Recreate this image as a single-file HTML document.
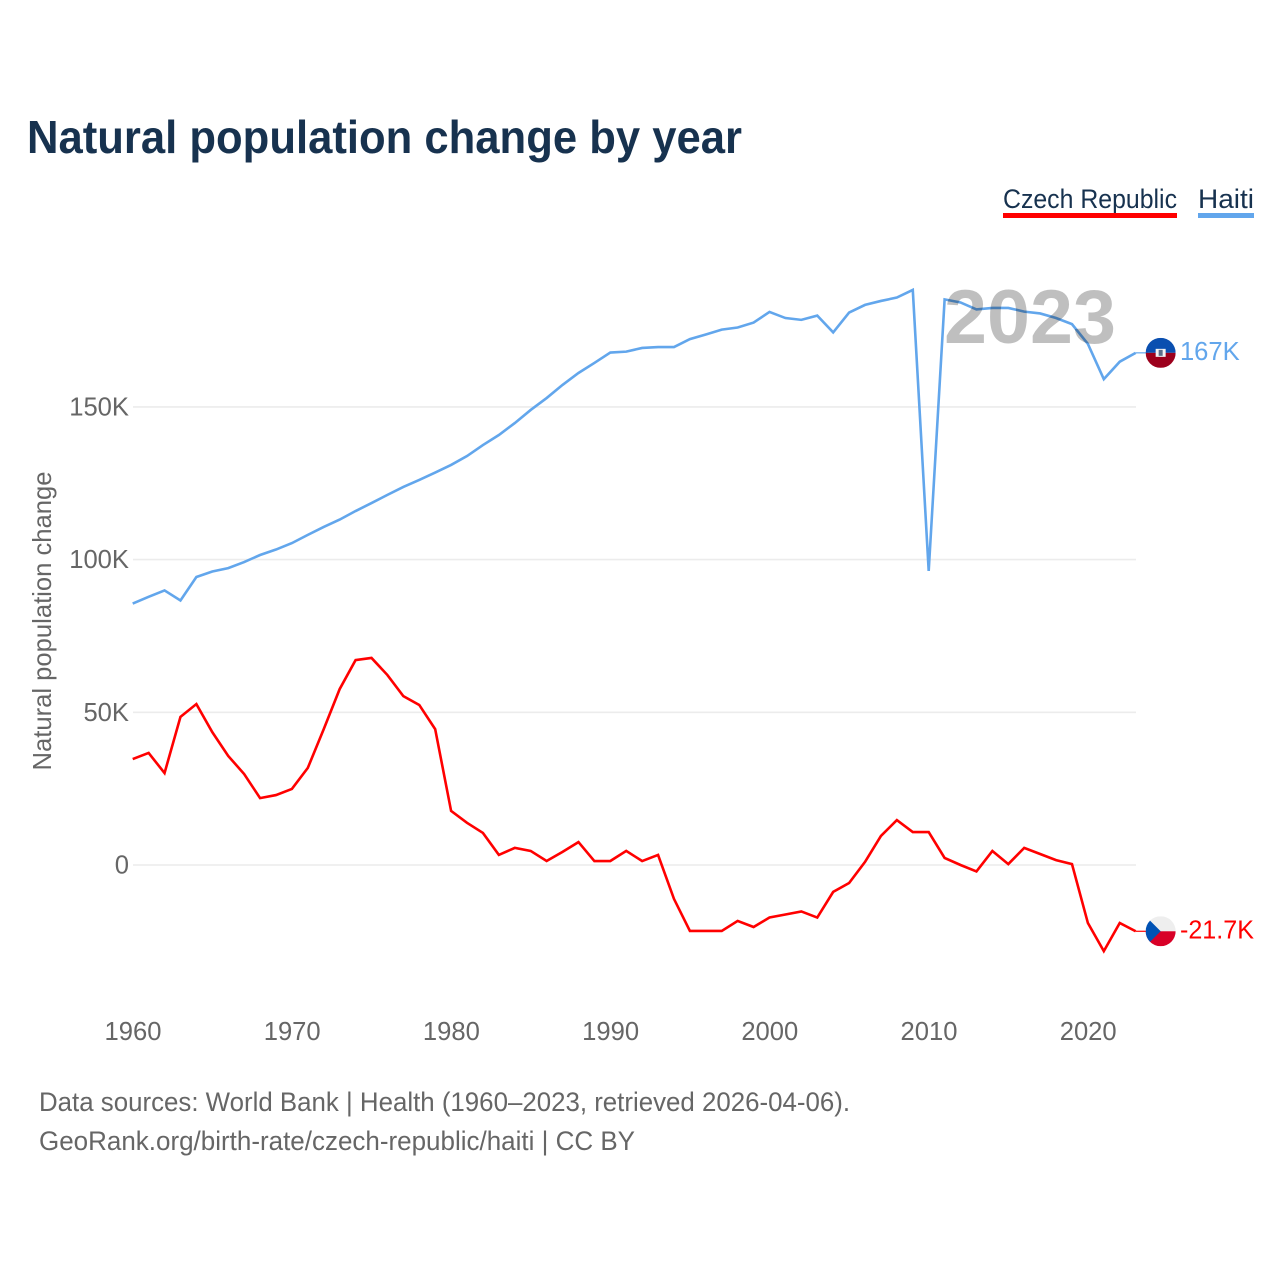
<!DOCTYPE html>
<html lang="en">
<head>
<meta charset="utf-8">
<title>Natural population change by year</title>
<style>
html,body{margin:0;padding:0;background:#fff;width:1280px;height:1280px;overflow:hidden}
svg{display:block;font-family:"Liberation Sans",sans-serif}
</style>
</head>
<body>
<svg id="chart" width="1280" height="1280" viewBox="0 0 1280 1280" xmlns="http://www.w3.org/2000/svg">
  <rect width="1280" height="1280" fill="#fff"/>
  <text x="27" y="153" font-size="46" font-weight="700" fill="#17324f" textLength="715" lengthAdjust="spacingAndGlyphs">Natural population change by year</text>

  <g>
    <text x="1003" y="208" font-size="27" fill="#17324f" textLength="174" lengthAdjust="spacingAndGlyphs">Czech Republic</text>
    <rect x="1003" y="213" width="174" height="5" fill="#ff0000"/>
  </g>
  <g>
    <text x="1198" y="208" font-size="27" fill="#17324f" textLength="56" lengthAdjust="spacingAndGlyphs">Haiti</text>
    <rect x="1198" y="213" width="56" height="5" fill="#62a6ec"/>
  </g>

  <text transform="translate(51 621) rotate(-90)" text-anchor="middle" font-size="25.6" fill="#666" textLength="299" lengthAdjust="spacingAndGlyphs">Natural population change</text>

  <g id="grid"></g>
  <g id="y-ticks"></g>
  <g id="x-ticks"></g>
  <g id="series"></g>

  <text x="944" y="343" font-size="76" font-weight="700" fill="#000" fill-opacity="0.25" textLength="172" lengthAdjust="spacingAndGlyphs">2023</text>

  <defs>
    <clipPath id="haiti-clip"><circle cx="0" cy="0" r="15"/></clipPath>
    <clipPath id="czech-clip"><circle cx="0" cy="0" r="15"/></clipPath>
  </defs>

  <g id="flag-haiti" clip-path="url(#haiti-clip)">
    <rect x="-15" y="-15" width="30" height="15" fill="#0a4fb0"/>
    <rect x="-15" y="0" width="30" height="15" fill="#9c001c"/>
    <rect x="-5" y="-4" width="10" height="8" fill="#f4f4f4"/>
    <rect x="-2" y="-3" width="4" height="6" fill="#5a6f8a"/>
  </g>
  <g id="flag-czech" clip-path="url(#czech-clip)">
    <rect x="-15" y="-15" width="30" height="15" fill="#eeeeee"/>
    <rect x="-15" y="0" width="30" height="15" fill="#d80027"/>
    <path d="M-15 -15 L0 0 L-15 15 Z" fill="#0052b4"/>
  </g>

  <g id="end-labels"></g>

  <text x="39" y="1111" font-size="26.5" fill="#666" textLength="811" lengthAdjust="spacingAndGlyphs">Data sources: World Bank | Health (1960–2023, retrieved 2026-04-06).</text>
  <text x="39" y="1150" font-size="26.5" fill="#666" textLength="596" lengthAdjust="spacingAndGlyphs">GeoRank.org/birth-rate/czech-republic/haiti | CC BY</text>
</svg>

<script>
const firstYear = 1960;
const czechValues = [34.7,36.7,30.1,48.5,52.7,43.5,35.7,29.8,21.9,22.9,24.9,31.8,44.5,57.6,67.1,67.8,62.2,55.3,52.4,44.5,17.7,13.8,10.5,3.3,5.6,4.6,1.3,4.3,7.5,1.3,1.3,4.6,1.3,3.3,-11.1,-21.6,-21.6,-21.6,-18.3,-20.3,-17.2,-16.2,-15.2,-17.2,-8.8,-5.9,1.0,9.5,14.7,10.8,10.8,2.3,0.0,-2.1,4.6,0.3,5.6,3.6,1.6,0.3,-19.0,-28.2,-19.0,-21.7];
const haitiValues = [85.6,87.8,89.9,86.6,94.3,96.1,97.2,99.2,101.5,103.3,105.4,108.1,110.7,113.1,115.9,118.5,121.2,123.8,126.1,128.5,131.0,133.9,137.5,140.8,144.7,149.0,152.9,157.2,161.1,164.4,167.8,168.1,169.3,169.6,169.6,172.2,173.7,175.3,176.0,177.6,181.1,179.1,178.5,179.9,174.4,180.9,183.4,184.7,185.8,188.3,96.3,185.2,184.2,181.9,182.4,182.4,181.2,180.6,179.1,177.1,170.6,159.1,164.8,167.7];
const yTickValues = [0,50,100,150];
const yTickLabels = ["0","50K","100K","150K"];
const xTickYears = [1960,1970,1980,1990,2000,2010,2020];
const endLabels = ["-21.7K","167K"];

const NS = "http://www.w3.org/2000/svg";
function xScale(year){ return 132.7 + (year - 1960) * 15.92; }
function yScale(v){ return 865 - v * 3.054; }
function make(tag, parent, attrs){
  const el = document.createElementNS(NS, tag);
  for (const k in attrs) el.setAttribute(k, attrs[k]);
  parent.appendChild(el);
  return el;
}

const grid = document.getElementById("grid");
const yTicks = document.getElementById("y-ticks");
yTickValues.forEach(function(v, i){
  const line = make("line", grid, {x1:133, x2:1136, y1:yScale(v), y2:yScale(v), stroke:"#ececec", "stroke-width":1.6});
  
  
  const t = make("text", yTicks, {x:129, y:yScale(v)+8.5, "text-anchor":"end", "font-size":25.6, fill:"#666"});
  t.textContent = yTickLabels[i];
  
  
});

const xTicks = document.getElementById("x-ticks");
xTickYears.forEach(function(y){
  const t = make("text", xTicks, {x:xScale(y)+0.3, y:1040, "text-anchor":"middle", "font-size":25.6, fill:"#666"});
  t.textContent = String(y);
  
  
});

const seriesGroup = document.getElementById("series");
function pathFor(values){
  return values.map(function(v, i){
    return (i ? "L" : "M") + xScale(firstYear + i).toFixed(2) + " " + yScale(v).toFixed(2);
  }).join(" ");
}
const czechLine = make("path", seriesGroup, {d:pathFor(czechValues), fill:"none", stroke:"#ff0000", "stroke-width":2.6, "stroke-linejoin":"miter"});


const haitiLine = make("path", seriesGroup, {d:pathFor(haitiValues), fill:"none", stroke:"#62a6ec", "stroke-width":2.6, "stroke-linejoin":"miter"});



const lastYear = firstYear + czechValues.length - 1;
const lastX = xScale(lastYear);
const czechEndY = yScale(czechValues[czechValues.length - 1]);
const haitiEndY = yScale(haitiValues[haitiValues.length - 1]);

const czechLeader = make("line", seriesGroup, {x1:lastX, x2:lastX+12, y1:czechEndY, y2:czechEndY, stroke:"#ff0000", "stroke-width":1.2});


const haitiLeader = make("line", seriesGroup, {x1:lastX, x2:lastX+12, y1:haitiEndY, y2:haitiEndY, stroke:"#62a6ec", "stroke-width":1.2});



document.getElementById("flag-czech").setAttribute("transform", "translate(" + (lastX + 25) + " " + czechEndY + ")");
document.getElementById("flag-haiti").setAttribute("transform", "translate(" + (lastX + 25) + " " + haitiEndY + ")");

const endGroup = document.getElementById("end-labels");
const czechLabel = make("text", endGroup, {x:lastX+44.3, y:czechEndY+7, "font-size":25.6, fill:"#ff0000", textLength:74, lengthAdjust:"spacingAndGlyphs"});
czechLabel.textContent = endLabels[0];


const haitiLabel = make("text", endGroup, {x:lastX+44.3, y:haitiEndY+7, "font-size":25.6, fill:"#62a6ec"});
haitiLabel.textContent = endLabels[1];


</script>
</body>
</html>
